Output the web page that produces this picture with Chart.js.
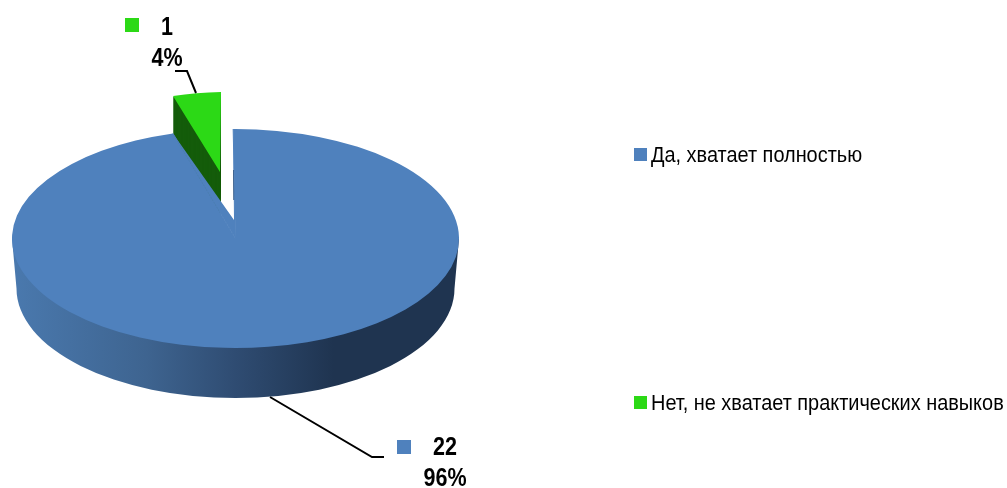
<!DOCTYPE html>
<html>
<head>
<meta charset="utf-8">
<script src="https://cdn.jsdelivr.net/npm/chart.js@4"></script>
<style>
    html, body { margin: 0; padding: 0; background: #fff; }
    canvas { display: block; }
</style>
</head>
<body>
<canvas id="pie" width="1007" height="488"></canvas>
<script>
const categories = ['Да, хватает полностью', 'Нет, не хватает практических навыков'];
const answers = [22, 1];
const sliceColors = ['#4F81BD', '#2CD916'];

// pie look, the picture is a tilted 3d pie so the flat arcs get transformed
const pie = { cx: 235.5, cy: 238.5, rx: 223.5, ry: 109.5, depth: 50, bottomRx: 219, apexX: 234, apexY: 220 };
const pulled = { apexX: 220, apexY: 172, startX: 173, startY: 96, endX: 221, endY: 92, wall: '#145C0A' };
const legendPos = { boxX: 634, textX: 651, ys: [156, 404] };
const labelPos = [
    { boxX: 397, boxY: 440, x: 445, y: 448, yPct: 479, line: [[270, 397], [372, 457], [384, 457]] },
    { boxX: 125, boxY: 18, x: 167, y: 28, yPct: 59, line: [[175, 71], [187, 71], [196, 93]] }
];
const textFont = '"Liberation Sans", sans-serif';

// the reference text is a narrow face, squeeze the regular one
function narrowText(ctx, text, x, y, ratio) {
    ctx.fillText(text, x, y, ctx.measureText(text).width * ratio);
}

function placeBlue(ctx, arc) {
    const r = arc.outerRadius;
    ctx.translate(pie.cx, pie.cy);
    ctx.scale(pie.rx / r, pie.ry / r);
    ctx.translate(-arc.x, -arc.y);
}

function placeGreen(ctx, arc) {
    // map the flat slice on the three corners of the pulled slice
    const r = arc.outerRadius;
    const ax = Math.cos(arc.startAngle), ay = Math.sin(arc.startAngle);
    const bx = Math.cos(arc.endAngle), by = Math.sin(arc.endAngle);
    const px = pulled.startX - pulled.apexX, py = pulled.startY - pulled.apexY;
    const qx = pulled.endX - pulled.apexX, qy = pulled.endY - pulled.apexY;
    const det = ax * by - bx * ay;
    ctx.translate(pulled.apexX, pulled.apexY);
    ctx.transform((px * by - qx * ay) / det, (py * by - qy * ay) / det,
        (qx * ax - px * bx) / det, (qy * ax - py * bx) / det, 0, 0);
    ctx.scale(1 / r, 1 / r);
    ctx.translate(-arc.x, -arc.y);
}

const pie3d = {
    id: 'pie3d',
    beforeDatasetDraw(chart) {
        const ctx = chart.ctx;
        const blue = chart.getDatasetMeta(0).data[0];
        const green = chart.getDatasetMeta(0).data[1];

        // GREEN SLICE
        ctx.fillStyle = pulled.wall;
        for (let d = pie.depth; d > 0; d--) {
            ctx.save();
            ctx.translate(0, d);
            placeGreen(ctx, green);
            ctx.beginPath();
            ctx.moveTo(green.x, green.y);
            ctx.arc(green.x, green.y, green.outerRadius, green.startAngle, green.endAngle);
            ctx.closePath();
            ctx.fill();
            ctx.restore();
        }
        ctx.save();
        placeGreen(ctx, green);
        green.draw(ctx);
        ctx.restore();

        // BLUE SIDE
        const side = ctx.createLinearGradient(pie.cx - pie.rx, 0, pie.cx + pie.rx, 0);
        side.addColorStop(0, '#4A79AE');
        side.addColorStop(0.3, '#3E6490');
        side.addColorStop(0.5, '#2F4C72');
        side.addColorStop(0.72, '#1F3450');
        side.addColorStop(1, '#1F3450');
        ctx.fillStyle = side;
        ctx.beginPath();
        ctx.moveTo(pie.cx - pie.rx, pie.cy);
        ctx.lineTo(pie.cx - pie.bottomRx, pie.cy + pie.depth);
        ctx.ellipse(pie.cx, pie.cy + pie.depth, pie.bottomRx, pie.ry, 0, Math.PI, 0, true);
        ctx.lineTo(pie.cx + pie.rx, pie.cy);
        ctx.closePath();
        ctx.fill();

        // BLUE TOP
        ctx.save();
        placeBlue(ctx, blue);
        blue.draw(ctx);
        ctx.restore();

        // perspective moves the tip of the gap up from the pie centre
        const sx = pie.cx + Math.cos(blue.startAngle) * pie.rx, sy = pie.cy + Math.sin(blue.startAngle) * pie.ry;
        const ex = pie.cx + Math.cos(blue.endAngle) * pie.rx, ey = pie.cy + Math.sin(blue.endAngle) * pie.ry;
        ctx.fillStyle = sliceColors[0];
        ctx.strokeStyle = sliceColors[0];
        ctx.beginPath();
        ctx.moveTo(sx, sy);
        ctx.lineTo(pie.apexX, pie.apexY);
        ctx.lineTo(ex, ey);
        ctx.lineTo(pie.cx, pie.cy);
        ctx.closePath();
        ctx.fill();
        ctx.beginPath();
        ctx.moveTo(ex, ey);
        ctx.lineTo(pie.cx, pie.cy);
        ctx.lineTo(sx, sy);
        ctx.stroke();

        // thin dark inner wall seen at the right side of the gap
        ctx.strokeStyle = '#3A5F8C';
        ctx.beginPath();
        ctx.moveTo(sx + 0.4, 170);
        ctx.lineTo(sx + 0.6, 200);
        ctx.stroke();
        return false;
    },
    afterDraw(chart) {
        const ctx = chart.ctx;
        const total = answers.reduce((a, b) => a + b, 0);
        ctx.save();

        // LEGEND
        ctx.textBaseline = 'middle';
        ctx.textAlign = 'left';
        ctx.font = '22px ' + textFont;
        categories.forEach((name, i) => {
            ctx.fillStyle = sliceColors[i];
            ctx.fillRect(legendPos.boxX, legendPos.ys[i] - 8, 13, 13);
            ctx.fillStyle = '#000';
            narrowText(ctx, name, legendPos.textX, legendPos.ys[i], 0.905);
        });

        // DATA LABELS
        ctx.textAlign = 'center';
        ctx.font = 'bold 25px ' + textFont;
        answers.forEach((value, i) => {
            const pos = labelPos[i];
            ctx.fillStyle = sliceColors[i];
            ctx.fillRect(pos.boxX, pos.boxY, 14, 14);
            ctx.fillStyle = '#000';
            narrowText(ctx, String(value), pos.x, pos.y, 0.86);
            narrowText(ctx, Math.round(value / total * 100) + '%', pos.x, pos.yPct, 0.86);
            ctx.strokeStyle = '#000';
            ctx.lineWidth = 2;
            ctx.beginPath();
            pos.line.forEach((p, n) => n ? ctx.lineTo(p[0], p[1]) : ctx.moveTo(p[0], p[1]));
            ctx.stroke();
        });
        ctx.restore();
    }
};

const data = {
    labels: categories,
    datasets: [{
        data: answers,
        backgroundColor: sliceColors,
        borderWidth: 0,
    }]
};
const config = {
    type: 'pie',
    data: data,
    options: {
        responsive: false,
        animation: false,
        rotation: -0.6,
        plugins: {
            legend: {
                display: false,
            },
            tooltip: {
                enabled: false,
            },
        }
    },
    plugins: [pie3d]
};
let answersPie = new Chart(
    document.getElementById('pie'),
    config
);
</script>
</body>
</html>
